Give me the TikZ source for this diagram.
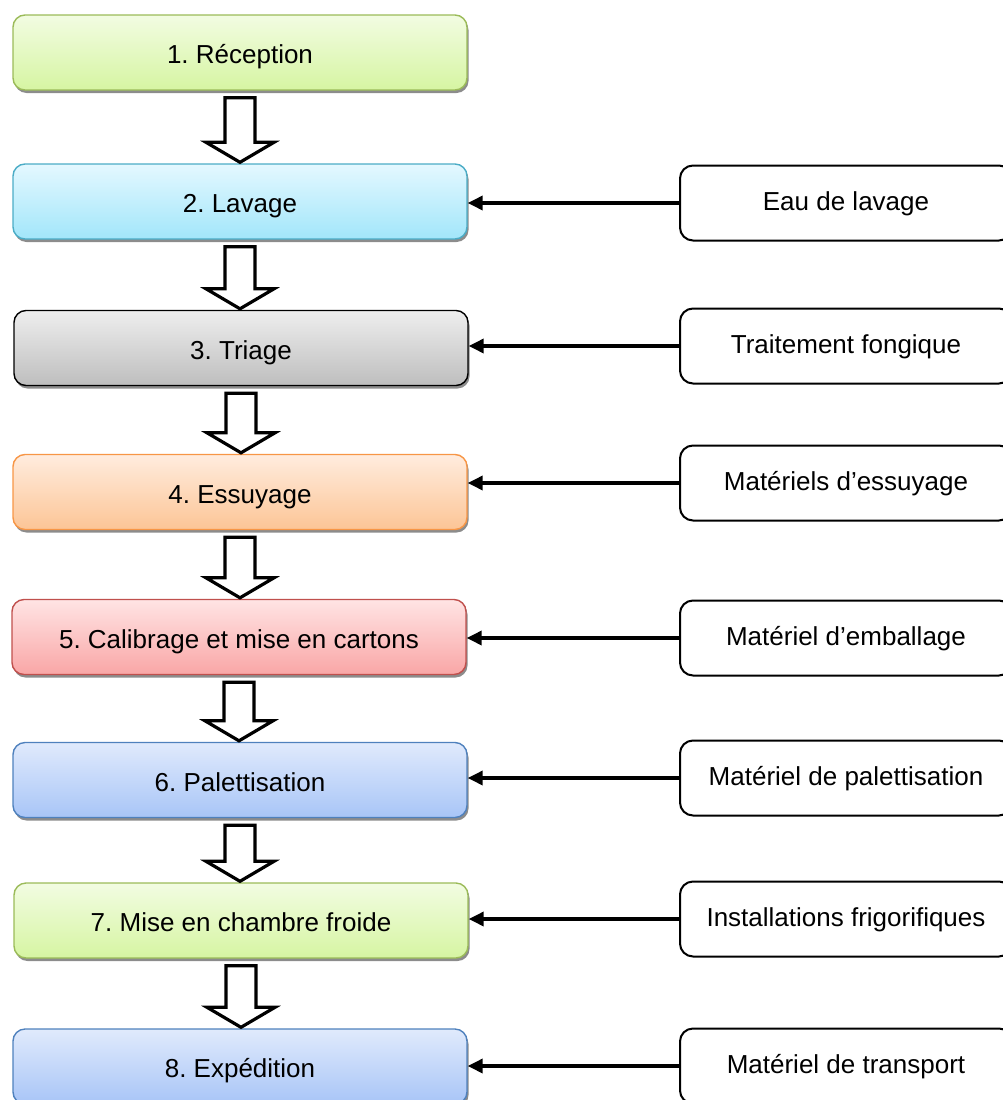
\documentclass[tikz,border=0pt]{standalone}
\usepackage{fontspec}
\setmainfont{Liberation Sans}
\frenchspacing
\usetikzlibrary{calc,shadows,arrows.meta}
\tikzset{
  stage/.style={rounded corners=12pt, minimum width=454pt, minimum height=75pt, inner sep=0pt,
    line width=1.4pt, font=\fontsize{26}{30}\selectfont, text height=22.6pt, text depth=0pt,
    drop shadow={shadow xshift=1.5pt, shadow yshift=-3pt, fill=black!45, opacity=1}},
  greenbox/.style={stage, draw=green1, top color=green0, bottom color=green2},
  cyanbox/.style={stage, draw=cyan1, top color=cyan0, bottom color=cyan2},
  graybox/.style={stage, draw=black, top color=gray0, bottom color=gray2},
  orangebox/.style={stage, draw=orange1, top color=orange0, bottom color=orange2},
  redbox/.style={stage, draw=red1, top color=red0, bottom color=red2},
  bluebox/.style={stage, draw=blue1, top color=blue0, bottom color=blue2},
  inputbox/.style={draw=black, line width=2pt, rounded corners=13pt, fill=white,
    minimum width=332pt, minimum height=75pt, inner sep=0pt, font=\fontsize{26}{30}\selectfont,
    text height=14.6pt, text depth=0pt},
  hollowarrow/.style={draw=black, line width=3.2pt, fill=white, line join=miter},
  feed/.style={draw=black, line width=3.4pt, -{Triangle[length=15pt,width=14pt]}}
}
\definecolor{green0}{HTML}{F2FCE2}
\definecolor{green1}{HTML}{9BBB59}
\definecolor{green2}{HTML}{D6F5A2}
\definecolor{cyan0}{HTML}{E4F8FF}
\definecolor{cyan1}{HTML}{4BACC6}
\definecolor{cyan2}{HTML}{A2E6FA}
\definecolor{gray0}{HTML}{EEEEEE}
\definecolor{gray2}{HTML}{BEBEBE}
\definecolor{orange0}{HTML}{FFECDE}
\definecolor{orange1}{HTML}{F79646}
\definecolor{orange2}{HTML}{FCC596}
\definecolor{red0}{HTML}{FFE4E4}
\definecolor{red1}{HTML}{C0504D}
\definecolor{red2}{HTML}{F9A6A6}
\definecolor{blue0}{HTML}{E0EAFC}
\definecolor{blue1}{HTML}{4F81BD}
\definecolor{blue2}{HTML}{A8C5F7}
\newcommand\hollowstep[2]{%
  \path[hollowarrow] let \p1=($(#1.south)+(0pt,-7pt)$), \p2=($(#2.north)+(0pt,1pt)$) in
    (\x1-15pt,\y1) -- (\x1+15pt,\y1) -- (\x1+15pt,\y2+20pt) -- (\x1+34pt,\y2+20pt)
    -- (\x1,\y2) -- (\x1-34pt,\y2+20pt) -- (\x1-15pt,\y2+20pt) -- cycle;}
\begin{document}
\begin{tikzpicture}[x=1pt,y=-1pt]
\useasboundingbox (0,0) rectangle (1003,1100);
\clip (0,0) rectangle (1003,1100);
\node[greenbox]  (l1) at (240,52.5)  {1. Réception};
\node[cyanbox]   (l2) at (240,201.5) {2. Lavage};
\node[graybox]   (l3) at (241,348)   {3. Triage};
\node[orangebox] (l4) at (240,492)   {4. Essuyage};
\node[redbox]    (l5) at (239,637)   {5. Calibrage et mise en cartons};
\node[bluebox]   (l6) at (240,780)   {6. Palettisation};
\node[greenbox]  (l7) at (241,920.5) {7. Mise en chambre froide};
\node[bluebox]   (l8) at (240,1066.5){8. Expédition};
\node[inputbox] (r2) at (846,203)  {Eau de lavage};
\node[inputbox] (r3) at (846,346)  {Traitement fongique};
\node[inputbox] (r4) at (846,483)  {Matériels d’essuyage};
\node[inputbox] (r5) at (846,638)  {Matériel d’emballage};
\node[inputbox] (r6) at (846,778)  {Matériel de palettisation};
\node[inputbox] (r7) at (846,919)  {Installations frigorifiques};
\node[inputbox] (r8) at (846,1066) {Matériel de transport};
\hollowstep{l1}{l2}
\hollowstep{l2}{l3}
\hollowstep{l3}{l4}
\hollowstep{l4}{l5}
\hollowstep{l5}{l6}
\hollowstep{l6}{l7}
\hollowstep{l7}{l8}
\foreach \i in {2,...,8}{
  \draw[feed] (r\i.west) -- (r\i.west -| l\i.east);
}
\end{tikzpicture}
\end{document}
